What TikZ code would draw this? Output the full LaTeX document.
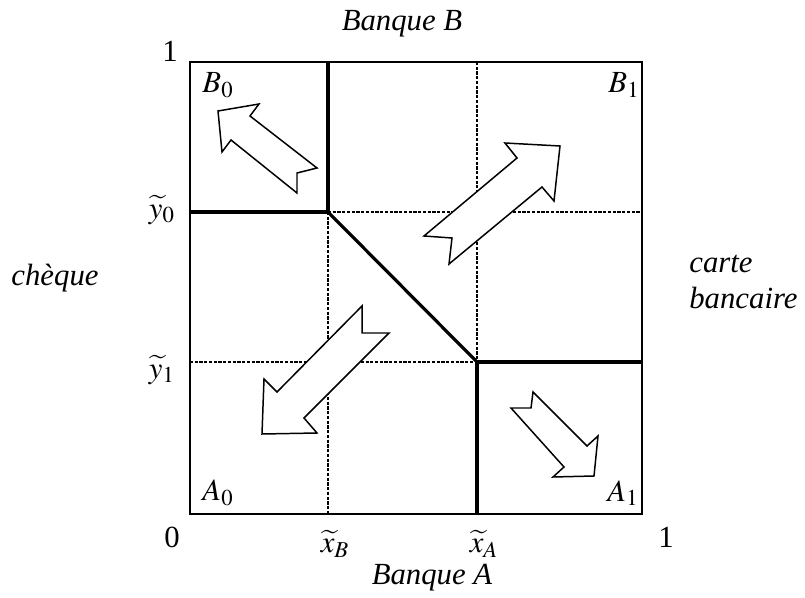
\documentclass[tikz,border=0pt]{standalone}
\usepackage{mathptmx}
\usepackage{fontspec}
\setmainfont{Liberation Serif}

\begin{document}
\begin{tikzpicture}[x=0.02cm, y=-0.02cm, font=\fontsize{17.5}{20.5}\selectfont,
    frame/.style={line width=0.85pt},
    thickline/.style={line width=1.8pt},
    dotline/.style={line width=1.5pt, dash pattern=on 1.8pt off 0.9pt},
    blockarrow/.style={draw, fill=white, line width=0.85pt, line join=miter}]
\useasboundingbox (0,0) rectangle (805,598);
% corners of the thresholds
\coordinate (P0) at (328,212);
\coordinate (P1) at (477,362);
% dotted grid
\draw[dotline] (P0) -- (328,514);
\draw[dotline] (477,62) -- (P1);
\draw[dotline] (P0) -- (642,212);
\draw[dotline] (190,362) -- (P1);
\draw[frame] (190,62) rectangle (642,514);
% equilibrium borders
\draw[thickline] (328,62) -- (P0) -- (190,212);
\draw[thickline] (P0) -- (P1);
\draw[thickline] (642,362) -- (P1) -- (477,514);
% block arrows
\filldraw[blockarrow] (218,111) -- (259,104) -- (250,116) -- (317,168) -- (297,173)
    -- (297,193) -- (231,140) -- (222,152) -- cycle;
\filldraw[blockarrow] (560,146) -- (505,143) -- (517,158) -- (424,236) -- (452,238)
    -- (449,264) -- (542,187) -- (554,201) -- cycle;
\filldraw[blockarrow] (262,434) -- (264,379) -- (277,392) -- (362,306) -- (362,333)
    -- (389,333) -- (304,418) -- (317,433) -- cycle;
\filldraw[blockarrow] (594,476) -- (553,477) -- (564,467) -- (511,408) -- (531,408)
    -- (533,392) -- (587,446) -- (598,436) -- cycle;
% region labels
\node (b0) at (218,85) {$B_0$};
\node (b1) at (624,85) {$B_1$};
\node (a0) at (218,493) {$A_0$};
\node (a1) at (623,493) {$A_1$};
% axes
\node (one) at (170,51) {1};
\node (zero) at (172,537) {0};
\node (oneA) at (666,537) {1};
\node (xb) at (335,544) {$\widetilde{x}_B$};
\node (xa) at (484,544) {$\widetilde{x}_A$};
\node[anchor=east] (y0) at (181,210) {$\widetilde{y}_0$};
\node[anchor=east] (y1) at (181,370) {$\widetilde{y}_1$};
\node (bankB) at (402,24) {\textit{Banque B}};
\node (bankA) at (432,578) {\textit{Banque A}};
\node (cheque) at (55,278) {\textit{chèque}};
\node[anchor=west, align=left, inner sep=0pt] (card) at (689,282) {\textit{carte}\\\textit{bancaire}};
\end{tikzpicture}
\end{document}
